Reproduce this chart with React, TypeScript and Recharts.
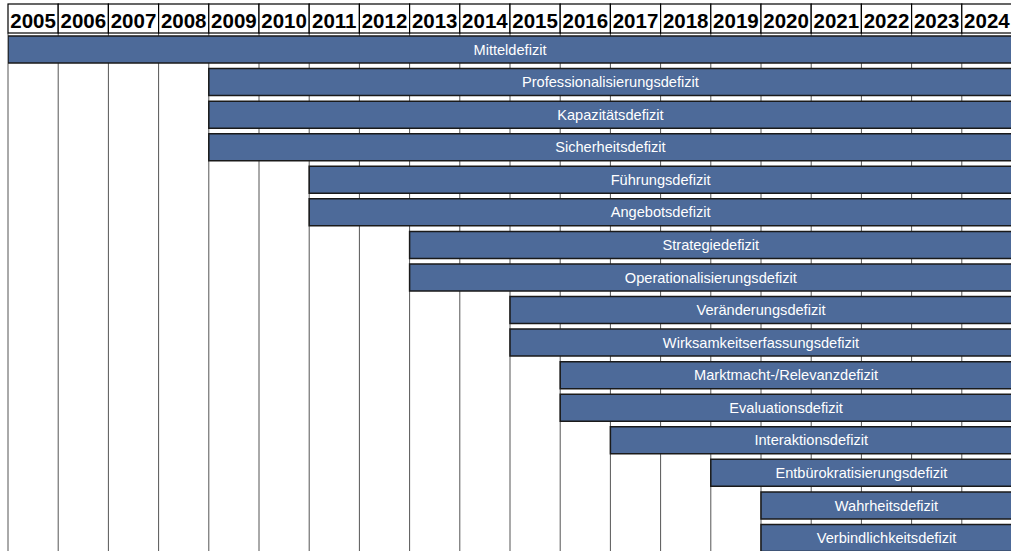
import React from 'react';
import { BarChart, Bar, XAxis, YAxis, CartesianGrid, LabelList } from 'recharts';

const categories = [
  'Mitteldefizit',
  'Professionalisierungsdefizit',
  'Kapazitätsdefizit',
  'Sicherheitsdefizit',
  'Führungsdefizit',
  'Angebotsdefizit',
  'Strategiedefizit',
  'Operationalisierungsdefizit',
  'Veränderungsdefizit',
  'Wirksamkeitserfassungsdefizit',
  'Marktmacht-/Relevanzdefizit',
  'Evaluationsdefizit',
  'Interaktionsdefizit',
  'Entbürokratisierungsdefizit',
  'Wahrheitsdefizit',
  'Verbindlichkeitsdefizit',
];
const startYears = [2005, 2009, 2009, 2009, 2011, 2011, 2013, 2013, 2015, 2015, 2016, 2016, 2017, 2019, 2020, 2020];
const endYears = [2025, 2025, 2025, 2025, 2025, 2025, 2025, 2025, 2025, 2025, 2025, 2025, 2025, 2025, 2025, 2025];
const yearLabels = ['2005', '2006', '2007', '2008', '2009', '2010', '2011', '2012', '2013', '2014', '2015', '2016', '2017', '2018', '2019', '2020', '2021', '2022', '2023', '2024'];
const gridYears = [2005, 2006, 2007, 2008, 2009, 2010, 2011, 2012, 2013, 2014, 2015, 2016, 2017, 2018, 2019, 2020, 2021, 2022, 2023, 2024, 2025];

const data = categories.map((name, i) => ({ name, range: [startYears[i], endYears[i]] }));
const headerTicks = yearLabels.map((y) => Number(y) + 0.5);

const FONT = '"Liberation Sans", Arial, sans-serif';
const HEADER_H = 29;

const HeaderTick = (props: any) => {
  const { x, y, payload, width, visibleTicksCount } = props;
  const cw = width && visibleTicksCount ? width / visibleTicksCount : 50.2;
  return (
    <g>
      <rect x={x - cw / 2} y={y - HEADER_H} width={cw} height={HEADER_H} fill="#fff" stroke="#000" strokeWidth={1.2} />
      <text x={x} y={y - 5} textAnchor="middle" fontFamily={FONT} fontWeight="bold" fontSize={20.5} fill="#000">
        {String(Math.floor(payload.value))}
      </text>
    </g>
  );
};

export default function App() {
  return (
    <div style={{ position: 'absolute', left: 0, top: 0, width: 1011, height: 551, overflow: 'hidden', background: '#fff' }}>
      <BarChart
        width={1020}
        height={554}
        data={data}
        layout="vertical"
        margin={{ top: 4, right: 8, bottom: 0, left: 8 }}
        barSize={27}
      >
        <CartesianGrid horizontal={false} xAxisId="grid" stroke="#555" strokeWidth={1} />
        <XAxis
          type="number"
          orientation="top"
          domain={[2005, 2025]}
          ticks={headerTicks}
          interval={0}
          height={HEADER_H}
          tickSize={0}
          tickMargin={0}
          tickLine={false}
          axisLine={false}
          tick={<HeaderTick />}
          allowDataOverflow
        />
        <XAxis
          xAxisId="grid"
          type="number"
          orientation="bottom"
          domain={[2005, 2025]}
          ticks={gridYears}
          interval={0}
          hide
          allowDataOverflow
        />
        <YAxis
          type="category"
          dataKey="name"
          width={0}
          tick={false}
          tickLine={false}
          axisLine={{ stroke: '#000', strokeWidth: 2 }}
        />
        <Bar dataKey="range" fill="#4D6A99" stroke="#1a1a1a" strokeWidth={1.5} isAnimationActive={false}>
          <LabelList dataKey="name" position="center" fill="#fff" fontSize={14.6} fontFamily={FONT} />
        </Bar>
      </BarChart>
    </div>
  );
}
